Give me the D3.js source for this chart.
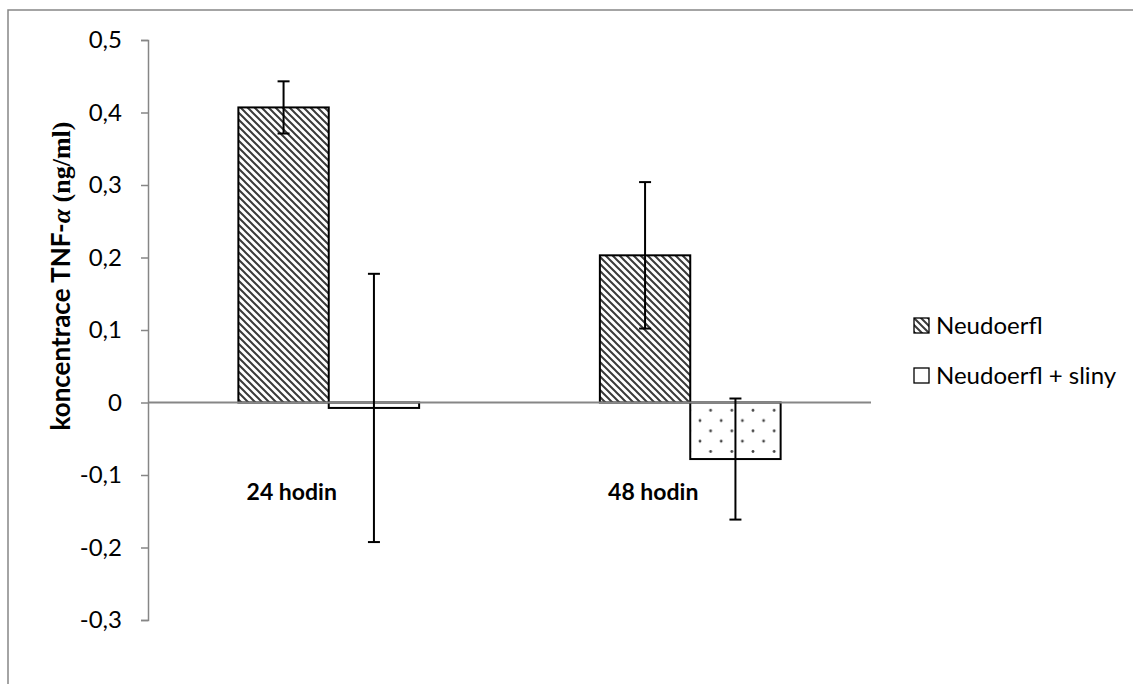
<!DOCTYPE html>
<html lang="cs">

<head>
    <meta charset="UTF-8">
    <title>TNF-alpha</title>
    <script src="https://d3js.org/d3.v7.min.js"></script>
    <style>
        body { margin: 0; background: #fff; }
        text { font-family: Lato, "Open Sans", sans-serif; fill: #000; }
    </style>
</head>

<body>
    <script>

        // data
        var categories = ["24 hodin", "48 hodin"]
        var seriesNames = ["Neudoerfl", "Neudoerfl + sliny"]
        var neudoerfl = [0.407, 0.203]
        var neudoerflErr = [0.036, 0.101]
        var sliny = [-0.0075, -0.078]
        var slinyErr = [0.185, 0.0835]
        var yTicks = [-0.3, -0.2, -0.1, 0, 0.1, 0.2, 0.3, 0.4, 0.5]

        var width = 1133,
            height = 684

        var svg = d3.select("body").append("svg")
            .attr("width", width)
            .attr("height", height)

        // patterns
        var defs = svg.append("defs")
        var hatch = defs.append("pattern")
            .attr("id", "hatch")
            .attr("patternUnits", "userSpaceOnUse")
            .attr("width", 7)
            .attr("height", 7)
        hatch.append("rect").attr("width", 7).attr("height", 7).attr("fill", "#fff")
        hatch.append("path")
            .attr("d", "M-1,-1 L8,8 M-1,6 L1,8 M6,-1 L8,1")
            .attr("stroke", "#3a3a3a")
            .attr("stroke-width", 2)

        var dots = defs.append("pattern")
            .attr("id", "dots")
            .attr("patternUnits", "userSpaceOnUse")
            .attr("x", 700)
            .attr("y", 400)
            .attr("width", 21.2)
            .attr("height", 20.6)
        dots.append("rect").attr("width", 21.2).attr("height", 20.6).attr("fill", "#fff")
        var dotPos = [[10.6, 10.3], [0, 0], [21.2, 0], [0, 20.6], [21.2, 20.6]]
        dots.selectAll("circle").data(dotPos).join("circle")
            .attr("cx", function (d) { return d[0] })
            .attr("cy", function (d) { return d[1] })
            .attr("r", 1.4)
            .attr("fill", "#444")

        var fills = ["url(#hatch)", "url(#dots)"]

        // outer border of the chart area
        svg.append("rect")
            .attr("x", 8)
            .attr("y", 10)
            .attr("width", 1300)
            .attr("height", 900)
            .attr("fill", "none")
            .attr("stroke", "#868686")
            .attr("stroke-width", 1.5)

        // scales
        var x0 = d3.scaleBand()
            .domain(categories)
            .range([148, 871])
            .paddingInner(0.5)
            .paddingOuter(0.25)

        var x1 = d3.scaleBand()
            .domain(seriesNames)
            .range([0, x0.bandwidth()])

        var y = d3.scaleLinear()
            .domain([-0.3, 0.5])
            .range([620, 40])

        // y axis
        var yAxis = d3.axisLeft(y)
            .tickValues(yTicks)
            .tickSize(7)
            .tickPadding(19)
            .tickFormat(function (v) {
                if (Math.abs(v) < 1e-9) { return "0" }
                return d3.format(".1f")(v).replace(".", ",").replace("\u2212", "-")
            })

        var gy = svg.append("g")
            .attr("transform", "translate(148,0)")
            .call(yAxis)
        gy.select(".domain").attr("stroke", "#868686").attr("stroke-width", 1.5)
        gy.selectAll(".tick line").attr("stroke", "#868686").attr("stroke-width", 1.5)
        gy.selectAll(".tick text")
            .attr("font-family", "Lato, sans-serif")
            .attr("font-size", 24)
            .attr("fill", "#000")

        // data rows
        var rows = categories.map(function (c, i) {
            return [
                { cat: c, s: seriesNames[0], v: neudoerfl[i], e: neudoerflErr[i], k: 0 },
                { cat: c, s: seriesNames[1], v: sliny[i], e: slinyErr[i], k: 1 }
            ]
        }).flat()

        // bars
        svg.append("g")
            .selectAll("rect")
            .data(rows)
            .join("rect")
            .attr("x", function (d) { return x0(d.cat) + x1(d.s) })
            .attr("y", function (d) { return y(Math.max(0, d.v)) })
            .attr("width", x1.bandwidth())
            .attr("height", function (d) { return Math.abs(y(d.v) - y(0)) })
            .attr("fill", function (d) { return fills[d.k] })
            .attr("stroke", "#000")
            .attr("stroke-width", 2)

        // zero line
        svg.append("line")
            .attr("x1", 148)
            .attr("x2", 871)
            .attr("y1", y(0))
            .attr("y2", y(0))
            .attr("stroke", "#868686")
            .attr("stroke-width", 2)

        // error bars
        var eb = svg.append("g")
            .selectAll("g")
            .data(rows)
            .join("g")
            .attr("stroke", "#000")
            .attr("stroke-width", 2)
        eb.append("line")
            .attr("x1", function (d) { return x0(d.cat) + x1(d.s) + x1.bandwidth() / 2 })
            .attr("x2", function (d) { return x0(d.cat) + x1(d.s) + x1.bandwidth() / 2 })
            .attr("y1", function (d) { return y(d.v + d.e) })
            .attr("y2", function (d) { return y(d.v - d.e) })
        eb.selectAll("line.cap")
            .data(function (d) { return [d.v + d.e, d.v - d.e].map(function (t) { return { d: d, t: t } }) })
            .join("line")
            .attr("class", "cap")
            .attr("x1", function (c) { return x0(c.d.cat) + x1(c.d.s) + x1.bandwidth() / 2 - 6 })
            .attr("x2", function (c) { return x0(c.d.cat) + x1(c.d.s) + x1.bandwidth() / 2 + 6 })
            .attr("y1", function (c) { return y(c.t) })
            .attr("y2", function (c) { return y(c.t) })

        // category labels
        svg.append("g")
            .selectAll("text")
            .data(categories)
            .join("text")
            .attr("x", function (d) { return x0(d) + x0.bandwidth() / 2 - 37 })
            .attr("y", 500)
            .attr("text-anchor", "middle")
            .attr("font-size", 23)
            .attr("font-weight", "bold")
            .text(function (d) { return d })

        // y axis title
        var title = svg.append("text")
            .attr("transform", "translate(70,276) rotate(-90)")
            .attr("text-anchor", "middle")
            .attr("font-size", 26)
            .attr("font-weight", "bold")
        title.append("tspan").text("koncentrace TNF-")
        title.append("tspan")
            .attr("font-family", "Liberation Serif, serif")
            .attr("font-style", "italic")
            .text("α")
        title.append("tspan")
            .attr("font-family", "Liberation Serif, serif")
            .text(" (ng/ml)")

        // legend
        var legend = svg.append("g")
            .selectAll("g")
            .data(seriesNames)
            .join("g")
            .attr("transform", function (d, i) { return "translate(914," + (318 + i * 50) + ")" })
        legend.append("rect")
            .attr("width", 15)
            .attr("height", 15)
            .attr("fill", function (d, i) { return i === 0 ? "url(#hatch)" : "#fff" })
            .attr("stroke", "#000")
            .attr("stroke-width", 1.3)
        legend.append("text")
            .attr("x", 22)
            .attr("y", 16)
            .attr("font-size", 24)
            .text(function (d) { return d })

    </script>
</body>

</html>
